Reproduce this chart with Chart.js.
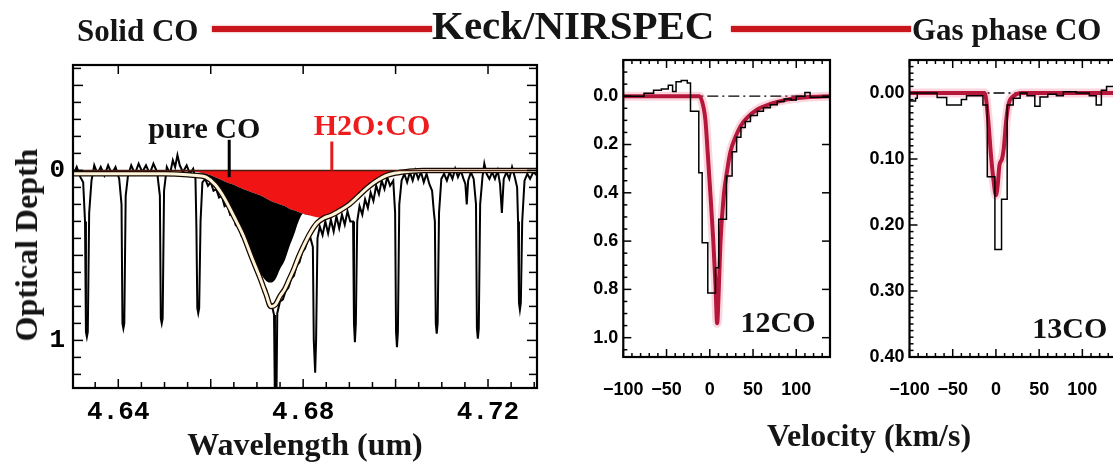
<!DOCTYPE html>
<html>
<head>
<meta charset="utf-8">
<title>Keck/NIRSPEC CO</title>
<script src="https://cdn.jsdelivr.net/npm/chart.js@4.4.1/dist/chart.umd.min.js"></script>
<style>
  html, body { margin: 0; padding: 0; background: #fff; overflow: hidden; }
  #page { position: relative; width: 1113px; height: 468px; overflow: hidden; background: #fff; }
  canvas { position: absolute; top: 0; }
  .txt { position: absolute; font-family: 'Liberation Serif', serif; font-weight: bold; color: #151515; white-space: nowrap; line-height: 1; }
  .bar { position: absolute; background: #c8161c; box-shadow: 0 0 2px rgba(220, 40, 40, 0.7); }
</style>
</head>
<body>
<div id="page">
  <canvas id="solid" width="545" height="468" style="left:0px"></canvas>
  <canvas id="co12" width="280" height="468" style="left:560px"></canvas>
  <canvas id="co13" width="270" height="468" style="left:850px"></canvas>

  <div class="txt" style="left:77px; top:30px; font-size:31px; transform:translateY(-50%);">Solid CO</div>
  <div class="bar" style="left:212px; top:26px; width:220px; height:6px;"></div>
  <div class="txt" style="left:432px; top:25px; font-size:41px; transform:translateY(-50%);">Keck/NIRSPEC</div>
  <div class="bar" style="left:731px; top:26px; width:180px; height:6px;"></div>
  <div class="txt" style="left:912px; top:29px; font-size:31px; transform:translateY(-50%);">Gas phase CO</div>

  <div class="txt" style="left:26px; top:245px; font-size:32px; transform:translate(-50%,-50%) rotate(-90deg);">Optical Depth</div>
  <div class="txt" style="left:305px; top:444px; font-size:32px; transform:translate(-50%,-50%);">Wavelength (um)</div>
  <div class="txt" style="left:869px; top:435px; font-size:32px; transform:translate(-50%,-50%);">Velocity (km/s)</div>
</div>

<script>
// ---- values ----

// left panel: solid CO band, optical depth vs wavelength (um)
const waveRange = [4.6302, 4.7306];
const depthRange = [-0.62, 1.28];
const waveTicks = [4.64, 4.68, 4.72];
const depthTicks = [0, 1];

const modelWl = [4.6302, 4.640, 4.650, 4.655, 4.657, 4.659, 4.661, 4.663, 4.665, 4.667,
  4.669, 4.6705, 4.672, 4.673, 4.674, 4.675, 4.676, 4.677, 4.678, 4.679,
  4.680, 4.6815, 4.683, 4.6845, 4.686, 4.688, 4.690, 4.692, 4.694, 4.696,
  4.698, 4.700, 4.703, 4.706, 4.710, 4.720, 4.7306];
// red area: H2O:CO component
const h2oCoTau = [0, 0, 0.005, 0.008, 0.01, 0.02, 0.04, 0.065, 0.085, 0.11,
  0.13, 0.145, 0.165, 0.18, 0.19, 0.20, 0.21, 0.225, 0.235, 0.245,
  0.255, 0.265, 0.275, 0.28, 0.265, 0.235, 0.20, 0.15, 0.10, 0.06,
  0.03, 0.015, 0.005, 0, 0, 0, 0];
// lower edge of the black area: pure CO stacked under H2O:CO
const pureCoTau = [0, 0, 0.005, 0.008, 0.01, 0.03, 0.075, 0.15, 0.26, 0.36,
  0.50, 0.59, 0.65, 0.66, 0.64, 0.58, 0.53, 0.45, 0.38, 0.30,
  0.255, 0.265, 0.275, 0.28, 0.265, 0.235, 0.20, 0.15, 0.10, 0.06,
  0.03, 0.015, 0.005, 0, 0, 0, 0];
// cream line: total fit
const totalTau = [0.02, 0.02, 0.02, 0.025, 0.03, 0.04, 0.085, 0.165, 0.27, 0.38,
  0.52, 0.62, 0.73, 0.80, 0.79, 0.74, 0.70, 0.64, 0.58, 0.51,
  0.45, 0.37, 0.31, 0.28, 0.265, 0.235, 0.20, 0.15, 0.10, 0.06,
  0.03, 0.015, 0.005, 0, 0, 0, 0];

// observed spectrum, with the narrow gas-phase lines
const obsWl = [
  4.6302, 4.6310, 4.6318, 4.6324, 4.6328, 4.6330, 4.6332, 4.6334, 4.6337, 4.6342,
  4.6348, 4.6355, 4.6362, 4.6370, 4.6378, 4.6386, 4.6394, 4.6402, 4.6407, 4.6409,
  4.6411, 4.6413, 4.6416, 4.6421, 4.6428, 4.6436, 4.6444, 4.6452, 4.6460, 4.6468,
  4.6476, 4.6484, 4.6490, 4.6492, 4.6494, 4.6496, 4.6499, 4.6505, 4.6512, 4.6518,
  4.6523, 4.6528, 4.6533, 4.6540, 4.6548, 4.6555, 4.6562, 4.6567, 4.6569, 4.6571,
  4.6573, 4.6575, 4.6578, 4.6582, 4.6588, 4.6594, 4.6600, 4.6606, 4.6612, 4.6618,
  4.6624, 4.6630, 4.6636, 4.6642, 4.6648, 4.6654, 4.6660, 4.6666, 4.6672, 4.6678,
  4.6684, 4.6690, 4.6696, 4.6702, 4.6708, 4.6714, 4.6720, 4.6726, 4.6732, 4.6737,
  4.6739, 4.6742, 4.6744, 4.6750, 4.6756, 4.6762, 4.6768, 4.6774, 4.6780, 4.6786,
  4.6792, 4.6798, 4.6804, 4.6810, 4.6816, 4.6821, 4.6823, 4.6826, 4.6828, 4.6831,
  4.6836, 4.6842, 4.6848, 4.6854, 4.6860, 4.6866, 4.6872, 4.6878, 4.6884, 4.6890,
  4.6896, 4.6902, 4.6908, 4.6910, 4.6912, 4.6914, 4.6917, 4.6922, 4.6928, 4.6934,
  4.6940, 4.6946, 4.6952, 4.6958, 4.6964, 4.6970, 4.6976, 4.6982, 4.6988, 4.6995,
  4.6999, 4.7001, 4.7003, 4.7005, 4.7008, 4.7013, 4.7019, 4.7025, 4.7031, 4.7037,
  4.7043, 4.7049, 4.7055, 4.7061, 4.7067, 4.7073, 4.7079, 4.7083, 4.7085, 4.7087,
  4.7089, 4.7091, 4.7094, 4.7099, 4.7105, 4.7111, 4.7117, 4.7123, 4.7129, 4.7135,
  4.7141, 4.7147, 4.7151, 4.7154, 4.7157, 4.7163, 4.7169, 4.7174, 4.7176, 4.7178,
  4.7180, 4.7183, 4.7188, 4.7192, 4.7197, 4.7203, 4.7209, 4.7215, 4.7221, 4.7226,
  4.7230, 4.7234, 4.7240, 4.7246, 4.7252, 4.7258, 4.7263, 4.7265, 4.7267, 4.7269,
  4.7271, 4.7274, 4.7279, 4.7285, 4.7291, 4.7298, 4.7306];
const obsTau = [
  0.03, -0.02, 0.04, 0.07, 0.30, 0.95, 0.98, 0.95, 0.25, 0.06,
  -0.03, 0.02, -0.02, 0.03, -0.03, 0.02, -0.02, 0.05, 0.20, 0.90,
  0.93, 0.90, 0.15, 0.03, -0.03, 0.02, -0.04, 0.01, -0.03, 0.02,
  -0.04, 0.01, 0.15, 0.87, 0.90, 0.87, 0.12, -0.02, 0.02, -0.06,
  -0.02, -0.09, -0.03, 0.01, -0.03, 0.02, -0.01, 0.05, 0.33, 0.81,
  0.84, 0.81, 0.30, 0.07, 0.05, 0.09, 0.07, 0.12, 0.11, 0.16,
  0.15, 0.21, 0.20, 0.26, 0.25, 0.32, 0.31, 0.38, 0.37, 0.45,
  0.44, 0.53, 0.52, 0.62, 0.61, 0.71, 0.70, 0.80, 0.79, 0.85,
  1.40, 1.40, 0.84, 0.77, 0.76, 0.71, 0.69, 0.64, 0.62, 0.56,
  0.54, 0.48, 0.46, 0.41, 0.40, 0.45, 1.00, 1.19, 1.00, 0.40,
  0.33, 0.38, 0.30, 0.37, 0.29, 0.36, 0.27, 0.34, 0.26, 0.32,
  0.24, 0.30, 0.30, 0.90, 1.01, 0.90, 0.30, 0.21, 0.26, 0.17,
  0.22, 0.13, 0.18, 0.09, 0.14, 0.06, 0.11, 0.04, 0.09, 0.06,
  0.25, 0.95, 1.04, 0.95, 0.20, 0.06, 0.02, 0.07, 0.01, 0.06,
  0.00, 0.05, 0.01, 0.07, 0.02, 0.08, 0.12, 0.25, 0.30, 0.90,
  0.96, 0.90, 0.25, 0.05, 0.02, 0.06, 0.01, 0.05, -0.01, 0.04,
  0.00, 0.05, 0.08, 0.20, 0.06, 0.01, 0.05, 0.20, 0.93, 0.99,
  0.93, 0.20, 0.04, -0.04, 0.02, 0.05, 0.01, 0.05, 0.00, 0.08,
  0.25, 0.05, 0.01, 0.05, -0.02, 0.04, 0.10, 0.30, 0.78, 0.82,
  0.78, 0.30, 0.06, 0.02, 0.05, 0.01, 0.03];

// right panels: gas phase lines vs velocity (km/s)
const velRange = [-100, 139];
const velTicks = [-100, -50, 0, 50, 100];
const tau12Range = [-0.15, 1.08];
const tau12Ticks = [0, 0.2, 0.4, 0.6, 0.8, 1.0];
const tau13Range = [-0.05, 0.40];
const tau13Ticks = [0, 0.1, 0.2, 0.3, 0.4];

// histogram bins: start velocity and depth
const vel12Obs = [-100, -76, -65, -56, -48, -43, -39, -33, -26, -22.3,
  -12.7, -8.8, -2.3, 6.6, 10.4, 19.3, 25.8, 31, 36, 41,
  47, 55, 62, 70, 78, 86, 94, 100, 110, 116, 139];
const tau12Obs = [0.0, -0.012, -0.025, -0.03, -0.045, -0.02, -0.06, -0.065, -0.055, 0.062,
  0.317, 0.607, 0.815, 0.71, 0.51, 0.33, 0.23, 0.17, 0.13, 0.105,
  0.08, 0.062, 0.048, 0.035, 0.022, 0.012, 0.016, 0.0, -0.015, 0.004, 0.004];
const vel12Fit = [-100, -12, -7, -5, -2.3, 0.8, 3.9, 6.6, 8.5, 10.4, 12.3,
  16.2, 20, 23.9, 29.6, 35.4, 43, 55, 70, 89, 112, 139];
const tau12Fit = [0, 0, 0.05, 0.10, 0.24, 0.41, 0.59, 0.78, 0.94, 0.80, 0.61,
  0.41, 0.31, 0.23, 0.17, 0.125, 0.09, 0.055, 0.032, 0.014, 0.004, 0];

const vel13Obs = [-100, -93, -91, -68, -57, -40, -34, -15, -10, -1.2,
  6.5, 13, 20, 28, 36, 45, 51, 60, 70, 78,
  93, 108, 116, 122, 128, 139];
const tau13Obs = [0.012, 0.008, 0.0, 0.007, 0.018, 0.01, 0.004, 0.018, 0.127, 0.237,
  0.161, 0.018, 0.008, 0.0, 0.004, 0.02, 0.006, 0.002, 0.004, -0.002,
  0.0, 0.004, 0.018, -0.004, -0.01, -0.01];
const vel13Fit = [-100, -13, -9, -6, -3, 0, 2, 4, 7, 9, 12, 15, 20, 30, 139];
const tau13Fit = [0, 0, 0.04, 0.09, 0.13, 0.155, 0.14, 0.11, 0.10, 0.085, 0.04, 0.015, 0.005, 0, 0];

// ---- drawing ----

const monoFont = { family: "'Liberation Mono', monospace", size: 26, weight: 'bold' };
const narrowFont = { family: "'Liberation Sans', sans-serif", size: 18, weight: 'bold' };
const serifBold = (px) => 'bold ' + px + 'px "Liberation Serif", serif';

function pts(xs, ys) {
  return xs.map((x, i) => ({ x: x, y: ys[i] }));
}

function fmtVel(v) {
  return v < 0 ? '\u2212' + Math.abs(v) : String(v);
}

// box with inward tick marks on the sides that are given
const frameTicks = {
  id: 'frameTicks',
  afterDatasetsDraw(chart, args, opts) {
    const { ctx, chartArea: a, scales } = chart;
    ctx.save();
    ctx.strokeStyle = '#000';
    ctx.lineWidth = 1.5;
    ['top', 'bottom', 'left', 'right'].forEach(side => {
      const s = opts[side];
      if (!s) return;
      const scale = (side === 'top' || side === 'bottom') ? scales.x : scales.y;
      const first = Math.ceil((scale.min - 1e-9) / s.step);
      const last = Math.floor((scale.max + 1e-9) / s.step);
      for (let k = first; k <= last; k++) {
        const v = k * s.step;
        const r = v / s.major;
        const len = Math.abs(r - Math.round(r)) < 1e-6 ? s.majorLen : s.minorLen;
        const p = scale.getPixelForValue(v);
        ctx.beginPath();
        if (side === 'bottom') { ctx.moveTo(p, a.bottom); ctx.lineTo(p, a.bottom - len); }
        if (side === 'top') { ctx.moveTo(p, a.top); ctx.lineTo(p, a.top + len); }
        if (side === 'left') { ctx.moveTo(a.left, p); ctx.lineTo(a.left + len, p); }
        if (side === 'right') { ctx.moveTo(a.right, p); ctx.lineTo(a.right - len, p); }
        ctx.stroke();
      }
    });
    ctx.lineWidth = 2.2;
    ctx.strokeRect(a.left, a.top, a.right - a.left, a.bottom - a.top);
    ctx.restore();
  }
};

// text labels and marker lines placed in data units
const notes = {
  id: 'notes',
  afterDatasetsDraw(chart, args, opts) {
    const { ctx, scales: { x, y } } = chart;
    ctx.save();
    (opts.marks || []).forEach(m => {
      const px = x.getPixelForValue(m.x);
      ctx.strokeStyle = m.color;
      ctx.lineWidth = m.width;
      ctx.beginPath();
      ctx.moveTo(px, y.getPixelForValue(m.y0));
      ctx.lineTo(px, y.getPixelForValue(m.y1));
      ctx.stroke();
    });
    (opts.labels || []).forEach(l => {
      ctx.font = l.font;
      ctx.fillStyle = l.color;
      ctx.textAlign = 'center';
      ctx.textBaseline = l.baseline || 'alphabetic';
      ctx.fillText(l.text, x.getPixelForValue(l.x), y.getPixelForValue(l.y));
    });
    ctx.restore();
  }
};

function axisOpts(o) {
  return {
    type: 'linear',
    min: o.range[0],
    max: o.range[1],
    reverse: !!o.reverse,
    afterBuildTicks: ax => { ax.ticks = o.ticks.map(v => ({ value: v })); },
    afterFit: ax => { if (o.horizontal) ax.height = o.fit; else ax.width = o.fit; },
    grid: { display: false, drawTicks: false },
    border: { display: false },
    ticks: { autoSkip: false, maxRotation: 0, padding: o.padding, color: '#000', font: o.font, callback: o.format }
  };
}

function baseOptions(padding, scales, frame, noteOpts) {
  return {
    responsive: false,
    animation: false,
    devicePixelRatio: 1,
    layout: { padding: padding },
    elements: { point: { radius: 0 }, line: { tension: 0 } },
    plugins: { legend: { display: false }, tooltip: { enabled: false }, frameTicks: frame, notes: noteOpts },
    scales: scales
  };
}

function drawSolidPanel() {
  new Chart(document.getElementById('solid'), {
    type: 'line',
    data: {
      datasets: [
        { data: pts(modelWl, h2oCoTau), fill: 'origin', backgroundColor: '#f01414', borderWidth: 0, cubicInterpolationMode: 'monotone', order: 10 },
        { data: pts(modelWl, pureCoTau), fill: '-1', backgroundColor: '#000', borderWidth: 0, cubicInterpolationMode: 'monotone', order: 9 },
        { data: pts(obsWl, obsTau), borderColor: '#000', borderWidth: 2, order: 8 },
        { data: pts(modelWl, totalTau), borderColor: '#140800', borderWidth: 5.5, cubicInterpolationMode: 'monotone', order: 7 },
        { data: pts(modelWl, totalTau), borderColor: '#fff4d8', borderWidth: 3, cubicInterpolationMode: 'monotone', order: 6 },
        { data: pts(waveRange, [0, 0]), borderColor: '#4a1c10', borderWidth: 1.5, order: 5 }
      ]
    },
    options: baseOptions(
      { top: 65, right: 8, bottom: 0, left: 0 },
      {
        x: axisOpts({ range: waveRange, ticks: waveTicks, horizontal: true, fit: 80, padding: 9, font: monoFont, format: v => v.toFixed(2) }),
        y: axisOpts({ range: depthRange, ticks: depthTicks, reverse: true, fit: 73, padding: 8, font: monoFont, format: v => String(v) })
      },
      {
        bottom: { step: 0.005, major: 0.02, minorLen: 6, majorLen: 9 },
        top: { step: 0.02, major: 0.02, minorLen: 9, majorLen: 9 },
        left: { step: 0.1, major: 0.5, minorLen: 8, majorLen: 10 },
        right: { step: 0.1, major: 0.5, minorLen: 8, majorLen: 10 }
      },
      {
        marks: [
          { x: 4.664, y0: -0.18, y1: 0.04, color: '#000', width: 3 },
          { x: 4.6862, y0: -0.17, y1: 0, color: '#e81818', width: 3 }
        ],
        labels: [
          { text: 'pure CO', x: 4.6586, y: -0.19, color: '#111', font: serifBold(30) },
          { text: 'H2O:CO', x: 4.6949, y: -0.206, color: '#ee1c1c', font: serifBold(30) }
        ]
      }
    ),
    plugins: [frameTicks, notes]
  });
}

function drawGasPanel(canvasId, obsV, obsT, fitV, fitT, tauRange, tauTicks, digits, yFit, rightPad, sideTicks, name, nameAt) {
  new Chart(document.getElementById(canvasId), {
    type: 'line',
    data: {
      datasets: [
        { data: pts(velRange, [0, 0]), borderColor: '#000', borderWidth: 1.3, borderDash: [11, 4, 2, 4], order: 10 },
        { data: pts(fitV, fitT), borderColor: 'rgba(236, 70, 105, 0.22)', borderWidth: 9, cubicInterpolationMode: 'monotone', order: 9 },
        { data: pts(fitV, fitT), borderColor: '#b5173b', borderWidth: 4, cubicInterpolationMode: 'monotone', order: 8 },
        { data: pts(obsV, obsT), borderColor: '#000', borderWidth: 1.5, stepped: true, order: 7 }
      ]
    },
    options: baseOptions(
      { top: 60, right: rightPad, bottom: 0, left: 0 },
      {
        x: axisOpts({ range: velRange, ticks: velTicks, horizontal: true, fit: 111, padding: 22, font: narrowFont, format: fmtVel }),
        y: axisOpts({ range: tauRange, ticks: tauTicks, reverse: true, fit: yFit, padding: 5, font: narrowFont,
          format: v => (Math.abs(v) < 1e-9 ? 0 : v).toFixed(digits) })
      },
      Object.assign({
        bottom: { step: 10, major: 50, minorLen: 4, majorLen: 8 },
        top: { step: 10, major: 50, minorLen: 4, majorLen: 8 }
      }, sideTicks),
      {
        labels: [{ text: name, x: nameAt[0], y: nameAt[1], color: '#111', font: serifBold(30), baseline: 'middle' }]
      }
    ),
    plugins: [frameTicks, notes]
  });
}

drawSolidPanel();
drawGasPanel('co12', vel12Obs, tau12Obs, vel12Fit, tau12Fit, tau12Range, tau12Ticks, 1, 63.3, 10,
  { left: { step: 0.05, major: 0.2, minorLen: 4, majorLen: 8 }, right: { step: 0.2, major: 0.2, minorLen: 8, majorLen: 8 } },
  '12CO', [79, 0.943]);
// right edge of this panel falls outside the picture, so no right-hand ticks
drawGasPanel('co13', vel13Obs, tau13Obs, vel13Fit, tau13Fit, tau13Range, tau13Ticks, 2, 59.5, 3.8,
  { left: { step: 0.01, major: 0.1, minorLen: 4, majorLen: 8 } },
  '13CO', [85.5, 0.36]);
</script>
</body>
</html>
